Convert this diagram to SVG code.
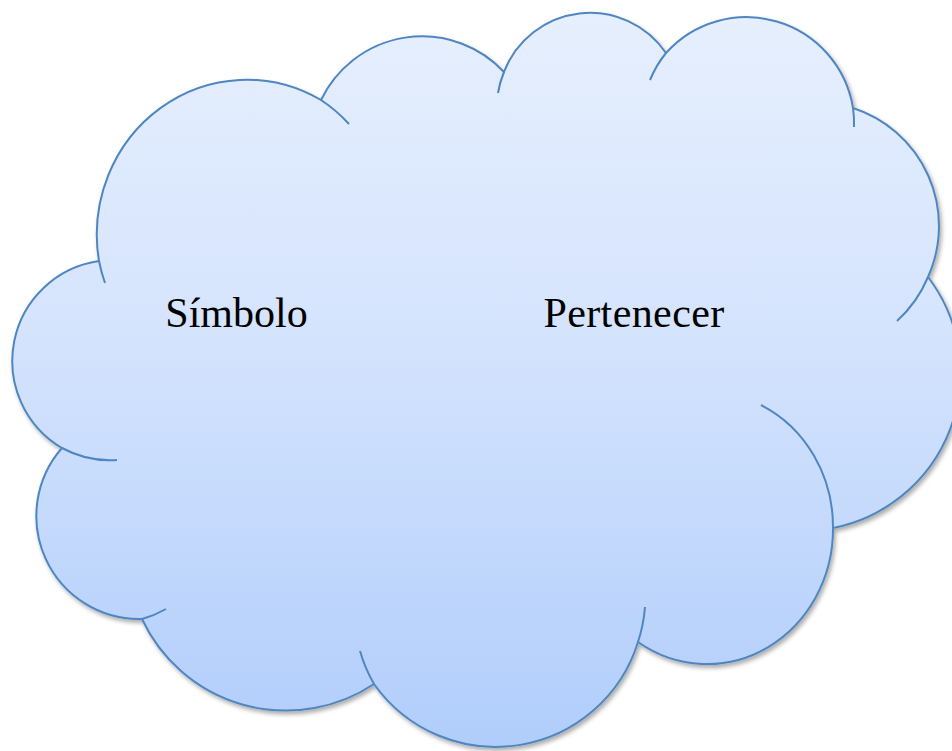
<svg xmlns="http://www.w3.org/2000/svg" width="952" height="751" viewBox="0 0 952 751">
  <defs>
    <linearGradient id="cloudFill" gradientUnits="userSpaceOnUse" x1="0" y1="15" x2="0" y2="750">
      <stop offset="0" stop-color="#e6effd"/>
      <stop offset="0.45" stop-color="#d4e3fd"/>
      <stop offset="1" stop-color="#b0cdfb"/>
    </linearGradient>
    <filter id="shadow" x="-5%" y="-5%" width="115%" height="115%">
      <feDropShadow dx="2" dy="3" stdDeviation="2.2" flood-color="#000" flood-opacity="0.32"/>
    </filter>
  </defs>
  <style>
    .edge { fill: none; stroke: #4f86c2; stroke-width: 2; stroke-linecap: butt; }
    .label { font-family: "Liberation Serif", "DejaVu Serif", serif; font-size: 42px; fill: #000; text-anchor: middle; }
  </style>
  <rect width="952" height="751" fill="#ffffff"/>
  <g id="cloud">
    <path id="cloud-body" filter="url(#shadow)" fill="url(#cloudFill)" stroke="#4f86c2" stroke-width="2"
      d="M99 261 A150 155 0 0 1 321 100 A112 112 0 0 1 504 72 A92 92 0 0 1 666 53 A108 108 0 0 1 853 108 A124 124 0 0 1 928 277 A158 158 0 0 1 833 528 A126 135 0 0 1 638 642 A149 149 0 0 1 374 684 A159 159 0 0 1 142 619 A103 103 0 0 1 62 448 A101 101 0 0 1 99 261 Z"/>
    <g id="cloud-inner-arcs">
      <path class="edge" d="M99 261 A150 155 0 0 0 105 283"/>
      <path class="edge" d="M321 100 A150 155 0 0 1 349 124"/>
      <path class="edge" d="M504 72 A92 92 0 0 0 498 93"/>
      <path class="edge" d="M666 53 A108 108 0 0 0 650 80"/>
      <path class="edge" d="M853 108 A108 108 0 0 1 854 127"/>
      <path class="edge" d="M928 277 A124 124 0 0 1 897 321"/>
      <path class="edge" d="M833 528 A126 135 0 0 0 761 405"/>
      <path class="edge" d="M638 642 A149 149 0 0 0 645 607"/>
      <path class="edge" d="M374 684 A149 149 0 0 1 360 651"/>
      <path class="edge" d="M142 619 A103 103 0 0 0 166 609"/>
      <path class="edge" d="M62 448 A101 101 0 0 0 117 460"/>
    </g>
  </g>
  <g id="label-simbolo">
    <text class="label" x="236.5" y="327">Símbolo</text>
  </g>
  <g id="label-pertenecer">
    <text class="label" x="634" y="327" letter-spacing="0.4">Pertenecer</text>
  </g>
</svg>
